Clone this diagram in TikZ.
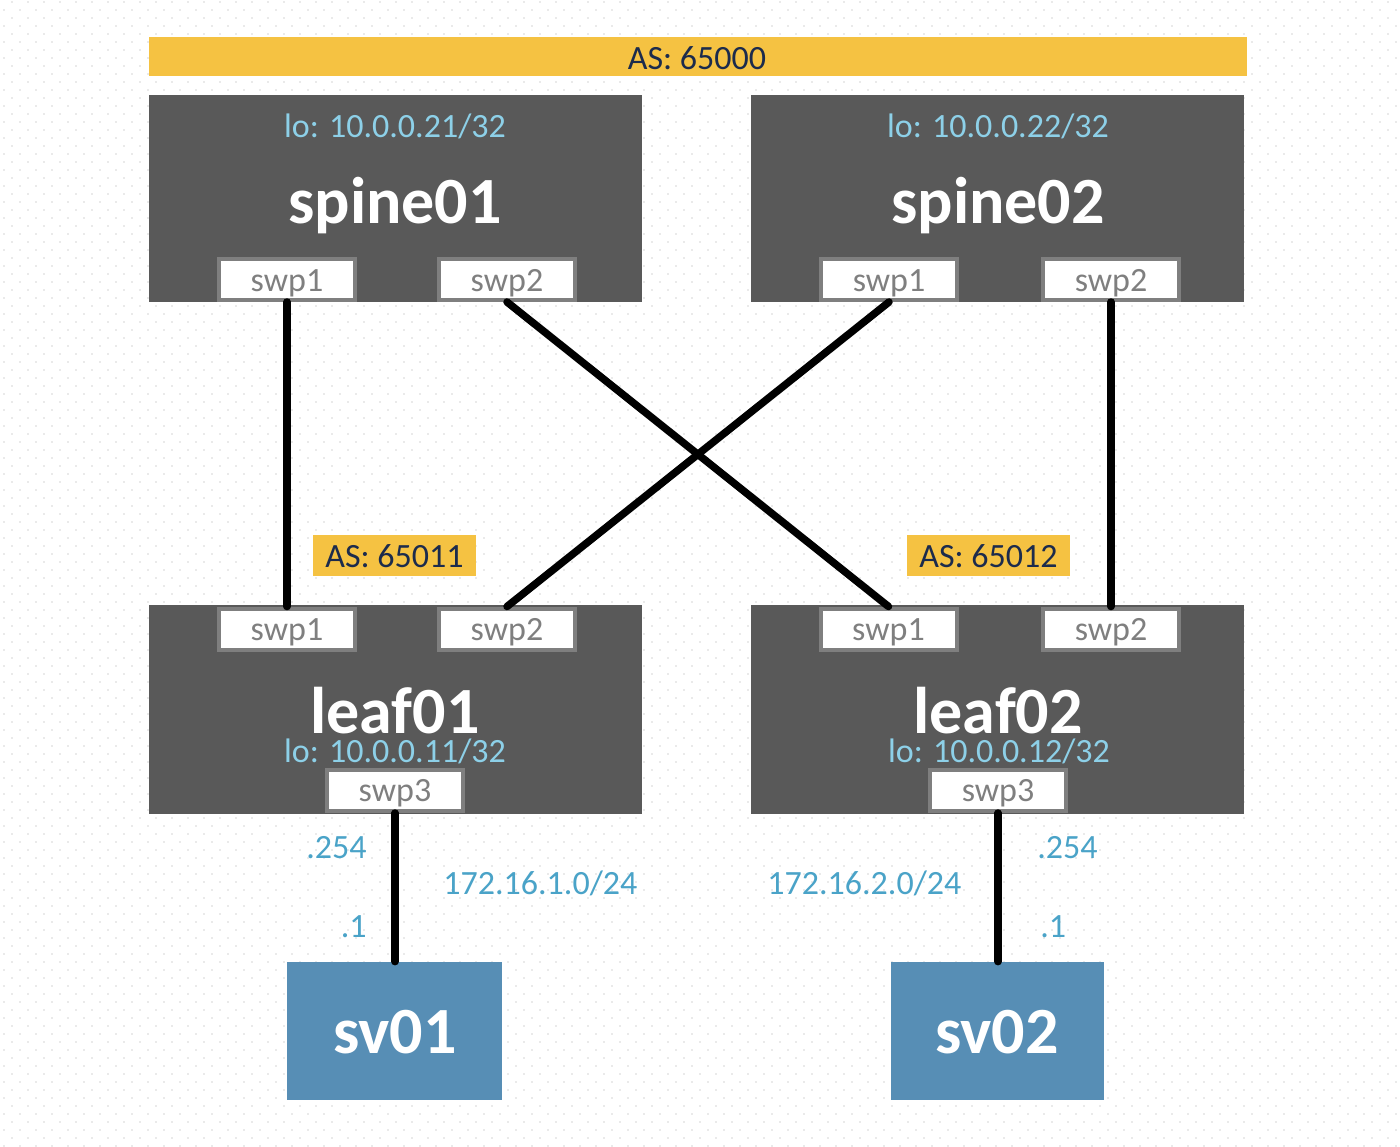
\documentclass[tikz,border=0pt]{standalone}
\usepackage{fontspec}
\setmainfont{Carlito}
\definecolor{asyellow}{HTML}{F5C242}
\definecolor{asnavy}{HTML}{1C2B4C}
\definecolor{boxgray}{HTML}{595959}
\definecolor{portgray}{HTML}{7F7F7F}
\definecolor{lolblue}{HTML}{8DD0E8}
\definecolor{netblue}{HTML}{4AA3C8}
\definecolor{svblue}{HTML}{578EB5}
\definecolor{gridc}{HTML}{EAEAEA}
\tikzset{
  txt/.style={font=\fontsize{17pt}{20pt}\selectfont, inner sep=0pt, anchor=base},
  bigname/.style={font=\fontsize{33pt}{40pt}\selectfont\bfseries, text=white, inner sep=0pt, anchor=base},
  device/.style={fill=boxgray, draw=none, minimum width=246.5pt, inner sep=0pt},
  port/.style={draw=portgray, line width=2pt, fill=white, minimum width=68pt, minimum height=20.5pt, inner sep=0pt},
  portlbl/.style={txt, text=portgray},
  asbox/.style={fill=asyellow, draw=none, inner sep=0pt},
  server/.style={fill=svblue, draw=none, minimum height=69pt, inner sep=0pt},
  link/.style={line width=3.75pt, line cap=round, black},
  lolbl/.style={txt, text=lolblue},
  netlbl/.style={txt, text=netblue},
}
\begin{document}
\begin{tikzpicture}[x=0.5pt, y=-0.5pt]
\useasboundingbox (0,0) rectangle (1400,1146);
\fill[white] (0,0) rectangle (1400,1146);
% dotted background grid
\foreach \r in {0,...,143}{
  \pgfmathsetmacro\yy{1.7+8*\r}
  \pgfmathsetmacro\xx{mod(\r,2)==0 ? 11 : 3}
  \draw[gridc, line width=1pt, dash pattern=on 1pt off 7pt] (\xx,\yy) -- (1400,\yy);
}
% AS 65000 bar
\node[asbox, minimum width=549pt, minimum height=19.5pt] (as0) at (698,56.5) {};
\node[txt, text=asnavy] (as0t) at (697,69) {AS: 65000};
% spines
\node[device, minimum height=103.5pt] (sp1) at (395.5,198.5) {};
\node[device, minimum height=103.5pt] (sp2) at (997.5,198.5) {};
\node[lolbl] (sp1lo) at (395,137) {lo: 10.0.0.21/32};
\node[lolbl] (sp2lo) at (998,137) {lo: 10.0.0.22/32};
\node[bigname] (sp1n) at (395,223) {spine01};
\node[bigname] (sp2n) at (998,223) {spine02};
% leaves
\node[device, minimum height=104.5pt] (lf1) at (395.5,709.5) {};
\node[device, minimum height=104.5pt] (lf2) at (997.5,709.5) {};
\node[bigname] (lf1n) at (395,733) {leaf01};
\node[bigname] (lf2n) at (998,733) {leaf02};
\node[lolbl] (lf1lo) at (395,762) {lo: 10.0.0.11/32};
\node[lolbl] (lf2lo) at (999,762) {lo: 10.0.0.12/32};
% AS boxes for leaves
\node[asbox, minimum width=81.5pt, minimum height=20.5pt] (as1) at (394.5,555.5) {};
\node[txt, text=asnavy] (as1t) at (394.5,567) {AS: 65011};
\node[asbox, minimum width=81.5pt, minimum height=20.5pt] (as2) at (988.5,555.5) {};
\node[txt, text=asnavy] (as2t) at (988.5,567) {AS: 65012};
% ports
\node[port] (s1p1) at (287,279.5) {};
\node[port] (s1p2) at (507,279.5) {};
\node[port] (s2p1) at (889,279.5) {};
\node[port] (s2p2) at (1111,279.5) {};
\node[port] (l1p1) at (287,629) {};
\node[port] (l1p2) at (507,629) {};
\node[port] (l2p1) at (888.5,629) {};
\node[port] (l2p2) at (1111,629) {};
\node[port] (l1p3) at (395,790.5) {};
\node[port] (l2p3) at (998,790.5) {};
\node[portlbl] (s1p1t) at (287,291) {swp1};
\node[portlbl] (s1p2t) at (507,291) {swp2};
\node[portlbl] (s2p1t) at (889,291) {swp1};
\node[portlbl] (s2p2t) at (1111,291) {swp2};
\node[portlbl] (l1p1t) at (287,640) {swp1};
\node[portlbl] (l1p2t) at (507,640) {swp2};
\node[portlbl] (l2p1t) at (888.5,640) {swp1};
\node[portlbl] (l2p2t) at (1111,640) {swp2};
\node[portlbl] (l1p3t) at (395,801) {swp3};
\node[portlbl] (l2p3t) at (998,801) {swp3};
% servers
\node[server, minimum width=107.5pt] (sv1) at (394.5,1031) {};
\node[server, minimum width=106.5pt] (sv2) at (997.5,1031) {};
\node[bigname] (sv1n) at (395,1053) {sv01};
\node[bigname] (sv2n) at (997,1053) {sv02};
% links
\draw[link] (s1p1.south) -- (l1p1.north);
\draw[link] (s1p2.south) -- (l2p1.north);
\draw[link] (s2p1.south) -- (l1p2.north);
\draw[link] (s2p2.south) -- (l2p2.north);
\draw[link] (l1p3.south) -- (l1p3.south |- sv1.north);
\draw[link] (l2p3.south) -- (l2p3.south |- sv2.north);
% network labels
\node[netlbl, anchor=base east] (n1a) at (367,858) {.254};
\node[netlbl, anchor=base east] (n1b) at (367,937) {.1};
\node[netlbl, anchor=base west] (n1c) at (443,894) {172.16.1.0/24};
\node[netlbl, anchor=base west] (n2c) at (767,894) {172.16.2.0/24};
\node[netlbl, anchor=base west] (n2a) at (1037,858) {.254};
\node[netlbl, anchor=base west] (n2b) at (1040,937) {.1};
\end{tikzpicture}
\end{document}
